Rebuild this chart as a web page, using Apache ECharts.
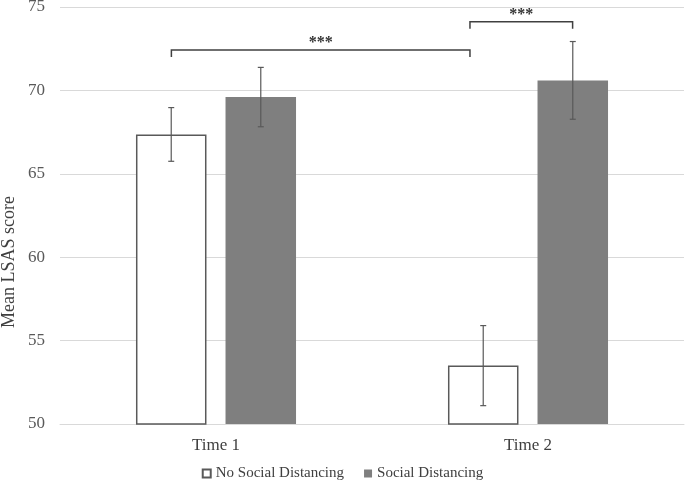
<!DOCTYPE html>
<html><head><meta charset="utf-8">
<script src="https://cdn.jsdelivr.net/npm/echarts@6/dist/echarts.min.js"></script>
<style>html,body{margin:0;padding:0;background:#fff}#c{width:685px;height:483px}</style>
</head><body><div id="c"></div>
<script>
var categories = ['Time 1', 'Time 2'];
var noSD = [67.36, 53.5];
var noSDErr = [1.61, 2.4];
var sd = [69.6, 70.6];
var sdErr = [1.78, 2.33];
var yTicks = {min: 50, max: 75, interval: 5};
var yAxisTitle = 'Mean LSAS score';
// brackets: [x start, x end, y level, label]; x in category units (Time 1 = 0, Time 2 = 1)
var brackets = [[-0.143, 0.814, 72.42, '***'], [0.814, 1.143, 74.12, '***']];

var FONT = '"Liberation Serif", "Times New Roman", serif';
var BAR_W = 0.226, BAR_GAP = 0.27;
var half = BAR_W * (1 + BAR_GAP) / 2;

var errData = [];
for (var i = 0; i < categories.length; i++) {
  errData.push([i, noSD[i], noSDErr[i], -1]);
  errData.push([i, sd[i], sdErr[i], 1]);
}

function renderErr(params, api) {
  var c = api.value(0), m = api.value(1), e = api.value(2), s = api.value(3);
  var bw = api.size([1, 0])[0];
  var top = api.coord([c, m + e]);
  var bot = api.coord([c, m - e]);
  var x = top[0] + s * half * bw;
  var cap = 3;
  var st = {stroke: '#595959', lineWidth: 1.2};
  return {type: 'group', children: [
    {type: 'line', shape: {x1: x, y1: top[1], x2: x, y2: bot[1]}, style: st},
    {type: 'line', shape: {x1: x - cap, y1: top[1], x2: x + cap, y2: top[1]}, style: st},
    {type: 'line', shape: {x1: x - cap, y1: bot[1], x2: x + cap, y2: bot[1]}, style: st}
  ]};
}

function renderBracket(params, api) {
  var a = api.coord([api.value(0), api.value(2)]);
  var b = api.coord([api.value(1), api.value(2)]);
  var t = 7;
  var st = {stroke: '#404040', lineWidth: 1.5, fill: null};
  return {type: 'group', children: [
    {type: 'polyline', shape: {points: [[a[0], a[1] + t], [a[0], a[1]], [b[0], b[1]], [b[0], b[1] + t]]}, style: st},
    {type: 'text', style: {x: (a[0] + b[0]) / 2, y: a[1] + 1, text: brackets[params.dataIndex][3], align: 'center', verticalAlign: 'bottom', fill: '#333333', font: 'bold 16px ' + FONT}}
  ]};
}

var chart = echarts.init(document.getElementById('c'));
chart.setOption({
  animation: false,
  grid: {left: 60, right: 1, top: 7, bottom: 59, containLabel: false, outerBoundsMode: 'none'},
  graphic: [{
    type: 'text', x: 9, y: 262, rotation: Math.PI / 2,
    style: {text: yAxisTitle, align: 'center', verticalAlign: 'middle', fill: '#404040', font: '18px ' + FONT}
  }],
  legend: {
    bottom: -3, left: 'center', icon: 'rect', itemWidth: 8, itemHeight: 8, itemGap: 20,
    textStyle: {fontFamily: FONT, fontSize: 15, color: '#404040'},
    data: ['No Social Distancing', 'Social Distancing']
  },
  xAxis: [{
    type: 'category', data: categories,
    axisLine: {lineStyle: {color: '#d9d9d9', width: 1}},
    axisTick: {show: false},
    axisLabel: {fontFamily: FONT, fontSize: 17, color: '#404040', margin: 13}
  }, {
    type: 'value', min: -0.5, max: 1.5, show: false
  }],
  yAxis: {
    type: 'value', min: yTicks.min, max: yTicks.max, interval: yTicks.interval,
    axisLine: {show: false}, axisTick: {show: false},
    axisLabel: {fontFamily: FONT, fontSize: 17, color: '#595959', margin: 15},
    splitLine: {lineStyle: {color: '#d9d9d9', width: 1.2}}
  },
  series: [{
    name: 'No Social Distancing', type: 'bar', data: noSD,
    barWidth: (BAR_W * 100) + '%', barGap: (BAR_GAP * 100) + '%',
    itemStyle: {color: '#ffffff', borderColor: '#595959', borderWidth: 1.5}
  }, {
    name: 'Social Distancing', type: 'bar', data: sd,
    barWidth: (BAR_W * 100) + '%', barGap: (BAR_GAP * 100) + '%',
    itemStyle: {color: '#7f7f7f'}
  }, {
    type: 'custom', renderItem: renderErr, data: errData, z: 10, silent: true
  }, {
    type: 'custom', xAxisIndex: 1, renderItem: renderBracket, data: brackets.map(function (b) { return [b[0], b[1], b[2]]; }), z: 10, silent: true
  }]
});
</script></body></html>
